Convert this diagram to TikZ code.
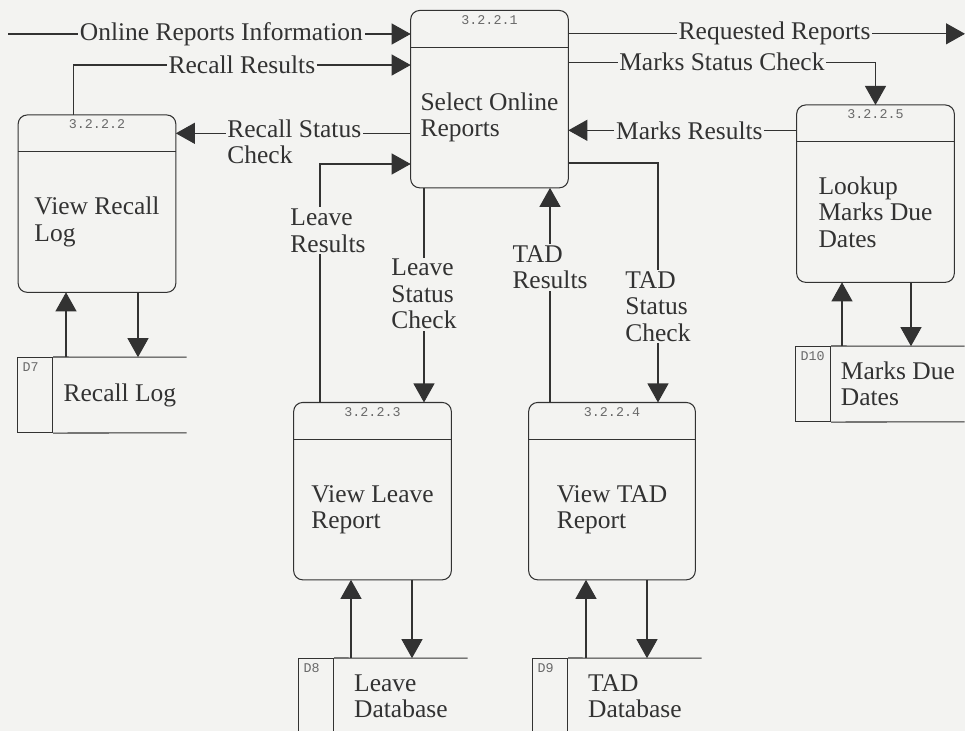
\documentclass[tikz,border=0pt]{standalone}
\usepackage{fontspec}
\setmainfont{Liberation Serif}
\setmonofont{Liberation Mono}
\usepackage{tikz}
\usetikzlibrary{arrows.meta,positioning}
\definecolor{paper}{RGB}{243,243,241}
\definecolor{ink}{RGB}{50,50,50}
\definecolor{inkgray}{RGB}{105,105,105}
\tikzset{
  body/.style={minimum width=3.14cm,minimum height=2.8cm,align=left,inner sep=2pt,
               font=\fontsize{14.5}{15}\selectfont,text=ink},
  head/.style={minimum width=3.14cm,minimum height=0.72cm,inner sep=0pt},
  procno/.style={anchor=north,inner sep=2.5pt,font=\ttfamily\fontsize{7.6}{8}\selectfont,text=inkgray},
  outline/.style={draw=ink,line width=0.6pt},
  storeid/.style={draw=ink,line width=0.6pt,anchor=north west,minimum width=0.7cm,
               minimum height=1.5cm,inner sep=0pt},
  storeno/.style={anchor=north west,inner sep=3pt,font=\ttfamily\fontsize{7.6}{8}\selectfont,text=inkgray},
  store/.style={minimum width=2.66cm,minimum height=1.5cm,inner sep=0pt,align=left,
               font=\fontsize{14.5}{15}\selectfont,text=ink},
  flow/.style={-{Triangle[length=0.38cm,width=0.42cm]},line width=0.6pt,draw=ink},
  lab/.style={fill=paper,inner sep=1pt,align=left,font=\fontsize{14.5}{15}\selectfont,text=ink},
}
\begin{document}
\begin{tikzpicture}[x=0.02cm,y=-0.02cm]
  \fill[paper] (0,0) rectangle (965,731);
  \useasboundingbox (0,0) rectangle (965,731);
  % processes
  \node[body] (p1) at (489.5,117.5) {Select Online\\Reports};
  \node[head,above=0pt of p1,label={[procno]north:3.2.2.1}] (p1h) {};
  \node[body] (p2) at (97,222) {View Recall\\Log};
  \node[head,above=0pt of p2,label={[procno]north:3.2.2.2}] (p2h) {};
  \node[body] (p3) at (372.5,509.5) {View Leave\\Report};
  \node[head,above=0pt of p3,label={[procno]north:3.2.2.3}] (p3h) {};
  \node[body,minimum width=3.32cm] (p4) at (612,509.5) {View TAD\\Report};
  \node[head,minimum width=3.32cm,above=0pt of p4,label={[procno]north:3.2.2.4}] (p4h) {};
  \node[body] (p5) at (875.5,212) {Lookup\\Marks Due\\Dates};
  \node[head,above=0pt of p5,label={[procno]north:3.2.2.5}] (p5h) {};
  \foreach \p in {p1,p2,p3,p4,p5} {
    \draw[outline,rounded corners=0.18cm] (\p h.north west) rectangle (\p.south east);
    \draw[outline] (\p.north west) -- (\p.north east);
  }
  % data stores
  \node[storeid,label={[storeno]north west:D7}] (d7) at (17,357) {};
  \node[store,right=0pt of d7] (s7) {Recall Log};
  \node[storeid,label={[storeno]north west:D8}] (d8) at (298,658) {};
  \node[store,right=0pt of d8] (s8) {Leave\\Database};
  \node[storeid,label={[storeno]north west:D9}] (d9) at (532,658) {};
  \node[store,right=0pt of d9] (s9) {TAD\\Database};
  \node[storeid,label={[storeno]north west:D10}] (d10) at (795,346) {};
  \node[store,right=0pt of d10] (s10) {Marks Due\\Dates};
  \foreach \s in {7,8,9,10}
    \draw[outline] (d\s.north east) -- (s\s.north east) (d\s.south east) -- (s\s.south east);
  % flows
  \coordinate (src) at (8,34);
  \coordinate (dst) at (965,35);
  \coordinate (rq) at ([yshift=-0.1cm]p1h.east);
  \coordinate (mr) at ([yshift=-0.14cm]p5h.west);
  \coordinate (tr) at ([xshift=-1.24cm]p4h.north);
  \coordinate (ls) at ([xshift=1.03cm]p3h.north);
  \draw[flow] (src) -- (src -| p1h.west) node[lab,pos=0.53] {Online Reports Information};
  \draw[flow] (rq) -- (rq -| dst) node[lab,pos=0.52] {Requested Reports};
  \draw[flow] ([xshift=1.1cm]p2h.north west) |- ([yshift=1.05cm]p1.west)
    node[lab,pos=0.75] {Recall Results};
  \draw[flow] (p1.west |- p2h.east) -- (p2h.east)
    node[lab,pos=0.79,anchor=mid west,yshift=-15pt] {Recall Status\\Check};
  \draw[flow] (mr) -- (mr -| p1.east) node[lab,pos=0.47] {Marks Results};
  \draw[flow] ([yshift=-0.3cm]p1.north east) -| (p5h.north)
    node[lab,pos=0.25] {Marks Status Check};
  \draw[flow] ([yshift=-0.91cm]p1.east) -| ([xshift=0.92cm]p4h.north)
    node[lab,pos=0.8] {TAD\\Status\\Check};
  \draw[flow] (tr) -- (tr |- p1.south) node[lab,pos=0.63] {TAD\\Results};
  \draw[flow] (ls |- p1.south) -- (ls) node[lab,pos=0.495] {Leave\\Status\\Check};
  \draw[flow] ([xshift=-1.05cm]p3h.north) |- ([yshift=-0.93cm]p1.west)
    node[lab,pos=0.36,xshift=0.16cm] {Leave\\Results};
  \foreach \p/\s/\u/\d in {p2/7/-0.62/0.82,p3/8/-0.43/0.79,p4/9/-0.52/0.7,p5/10/-0.67/0.71} {
    \coordinate (up) at ([xshift=\u cm]\p.south);
    \coordinate (dn) at ([xshift=\d cm]\p.south);
    \draw[flow] (up |- s\s.north) -- (up);
    \draw[flow] (dn) -- (dn |- s\s.north);
  }
\end{tikzpicture}
\end{document}
